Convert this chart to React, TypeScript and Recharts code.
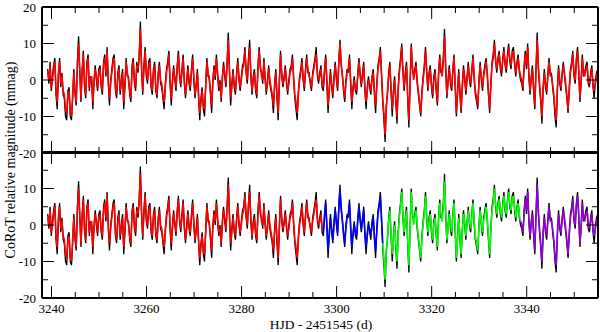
import { LineChart, Line, XAxis, YAxis } from "recharts";

const SERIF = '"Liberation Serif", "Times New Roman", Times, serif';

// CoRoT light curve, sampled every quarter day from HJD-2451545 = 3239.2
const START_DAY = 3239.2;
const STEP = 0.25;

// observed magnitudes in mmag (black)
const obs = [
  3, -1, 5, -3, 1, 4, 6, -4, -8, 1, 6, -2, 2, -4, -5, -10, -11, -3, -2, -10,
  -11, -5, 3, -4, -7, 5, 12, 2, -6, 3, 8, -2, -5, 5, 7, -3, 1, 0, -8, 0,
  4, 0, -3, 3, 4, -2, -4, 5, 7, 1, 9, -1, -7, 0, 3, 6, 7, -3, -5, 2,
  4, -4, 0, 3, -8, -2, 6, 1, 1, -4, -6, 4, 6, -1, -3, 5, 2, 7, 16, 3,
  -4, 4, 9, 1, -1, 5, 6, -2, -4, 3, 5, -3, -5, 2, 5, -1, -2, -5, -8, -1,
  3, 5, 8, -1, -7, 0, 4, 0, -3, 4, 8, 1, -2, 3, 7, -1, -5, 0, 4, -1,
  -3, 3, 7, 0, -5, -1, 3, -5, -11, -5, -2, -8, -10, -1, 6, 1, 1, -4, -9, 0,
  4, 0, 7, 1, -3, 0, -6, 1, 5, 1, -2, 5, 13, 2, -7, -1, 3, -2, -4, 2,
  6, 0, -3, 1, 4, 5, 9, 2, -1, 6, 11, 1, -4, 1, 3, -3, -5, 4, 9, 3,
  2, -1, 6, 0, -4, 0, 4, -1, -3, -5, -9, -1, 3, -5, -11, 0, 8, 1, -2, 1,
  4, -1, -4, 0, 3, 4, 7, 0, -5, -8, -11, -3, 1, 3, 6, 0, -3, 3, 7, 2,
  2, -1, -3, 2, 4, 6, 9, 1, -1, 2, 4, -2, -3, 3, 7, -1, -9, -2, 3, -2,
  -5, 1, 5, 0, -3, 5, 11, 4, 2, -3, -6, 0, 3, 2, 7, -1, -8, -2, 1, -3,
  -4, 2, 6, 1, -2, 2, 5, -3, -8, -2, 1, -2, -4, 1, 3, -4, -9, -1, 4, 6,
  9, 1, -6, -11, -17, -7, -4, 2, 5, -3, -10, -3, 1, -6, -12, -2, 3, 6, 10, 2,
  -3, 2, 5, -5, -13, -1, 10, 3, 1, 3, 5, -1, -4, -7, -10, -3, 1, 4, 9, 2,
  -3, 2, 4, -2, -5, 1, 3, -3, -7, 2, 7, 2, 2, 6, 14, 3, -5, 0, 4, -1,
  -3, 3, 7, -2, -10, -3, 3, -4, -9, -1, 4, 0, -4, 1, 5, 0, -2, 3, 7, 0,
  -4, -6, -8, 0, 5, 0, -3, 2, 4, 6, 1, -4, -9, -1, 5, 7, 11, 5, 2, 6,
  8, 3, 1, 6, 9, 4, 2, 7, 10, 5, 3, 8, 9, 4, 1, 5, 7, 2, 0, -1,
  -3, 4, 8, 3, 10, 1, -4, 1, 4, -3, -8, 3, 13, 3, -2, -6, -12, -2, 3, -2,
  -4, 2, 6, 1, 2, -2, -5, -10, -13, -2, 4, -1, -3, 2, 5, 1, -2, -5, -9, -2,
  3, 5, 8, 1, -1, 6, 9, 2, -6, 0, 7, 1, 2, 4, 5, -1, -2, 2, 4, -2,
  -5, 0, 2, 3,
];

// model fit in mmag (red in the upper panel, coloured by run in the lower one)
const fit = [
  2, 0, 4, -2, 0, 3, 5, -3, -6, 2, 5, -1, 1, -3, -4, -8, -9, -4, -3, -9,
  -10, -4, 2, -3, -6, 4, 10, 3, -5, 2, 7, -1, -4, 4, 6, -2, 0, 1, -6, -1,
  3, 1, -2, 2, 3, -1, -3, 4, 6, 2, 8, 0, -5, -1, 2, 5, 6, -2, -4, 1,
  3, -3, -1, 2, -6, -1, 5, 2, 0, -3, -5, 3, 5, 0, -2, 4, 3, 6, 14, 4,
  -3, 3, 8, 2, 0, 4, 5, -1, -3, 2, 4, -2, -4, 1, 4, 0, -1, -4, -6, -2,
  2, 4, 7, 0, -5, -1, 3, 1, -2, 3, 7, 2, -1, 2, 6, 0, -4, -1, 3, 0,
  -2, 2, 6, 1, -4, -2, 2, -4, -9, -6, -3, -7, -8, -2, 5, 2, 0, -3, -7, -1,
  3, 1, 6, 2, -2, -1, -5, 0, 4, 2, -1, 4, 11, 3, -5, -2, 2, -1, -3, 1,
  5, 1, -2, 0, 3, 4, 8, 3, 0, 5, 9, 2, -3, 0, 2, -2, -4, 3, 8, 4,
  1, 0, 5, 1, -3, -1, 3, 0, -2, -4, -7, -2, 2, -4, -9, -1, 7, 2, -1, 0,
  3, 0, -3, -1, 2, 3, 6, 1, -4, -6, -9, -4, 0, 2, 5, 1, -2, 2, 6, 3,
  1, 0, -2, 1, 3, 5, 7, 2, 0, 1, 3, -1, -2, 2, 6, 0, -7, -3, 2, -1,
  -4, 0, 4, 1, -2, 4, 10, 5, 1, -2, -5, -1, 2, 3, 6, 0, -6, -3, 0, -2,
  -3, 1, 5, 2, -1, 1, 4, -2, -6, -3, 0, -1, -3, 0, 2, -3, -7, -2, 3, 5,
  8, 2, -5, -9, -15, -8, -3, 1, 4, -2, -8, -4, 0, -5, -10, -3, 2, 5, 9, 3,
  -2, 1, 4, -4, -11, -2, 9, 4, 0, 2, 4, 0, -3, -6, -9, -4, 0, 3, 8, 3,
  -2, 1, 3, -1, -4, 0, 2, -2, -6, 1, 6, 3, 1, 5, 12, 4, -4, -1, 3, 0,
  -2, 2, 6, -1, -9, -4, 2, -3, -8, -2, 3, 1, -3, 0, 4, 1, -1, 2, 6, 1,
  -3, -5, -7, -1, 4, 1, -2, 1, 3, 5, 2, -3, -8, -2, 4, 6, 10, 6, 3, 5,
  7, 4, 2, 5, 8, 5, 3, 6, 9, 6, 4, 7, 8, 5, 2, 4, 6, 3, 1, 0,
  -2, 3, 7, 4, 9, 2, -3, 0, 3, -2, -7, 2, 11, 4, -1, -5, -10, -3, 2, -1,
  -3, 1, 5, 2, 1, -1, -4, -8, -11, -3, 3, 0, -2, 1, 4, 2, -1, -4, -8, -3,
  2, 4, 7, 2, 0, 5, 8, 3, -5, -1, 6, 2, 1, 3, 4, 0, -1, 1, 3, -1,
  -3, -1, 1, 2,
];

// colour runs of the fit in the lower panel (day ranges)
const SEGMENTS = [
  { key: "red", from: 3239.2, to: 3297.2, color: "#ff0000" },
  { key: "blue", from: 3297.2, to: 3309.7, color: "#0000ff" },
  { key: "green", from: 3309.7, to: 3338.7, color: "#00ff00" },
  { key: "violet", from: 3338.7, to: 3355, color: "#9400d3" },
];

const X_TICKS = [
  3240, 3245, 3250, 3255, 3260, 3265, 3270, 3275, 3280, 3285, 3290, 3295,
  3300, 3305, 3310, 3315, 3320, 3325, 3330, 3335, 3340, 3345, 3350,
];
const Y_TICKS = [-20, -15, -10, -5, 0, 5, 10, 15, 20];
const X_DOMAIN = [3238, 3355];
const Y_DOMAIN = [-20, 20];

const rows = obs.map((o, i) => {
  const t = Math.round((START_DAY + i * STEP) * 100) / 100;
  const row: Record<string, number | null> = { t, obs: o, fit: fit[i] };
  SEGMENTS.forEach((s) => {
    row[s.key] = t >= s.from - 1e-6 && t <= s.to + 1e-6 ? fit[i] : null;
  });
  return row;
});

function XTick(props: any) {
  const { x, y, payload, side, label } = props;
  const v = payload.value;
  const major = v % 20 === 0;
  const len = major ? 12 : 6;
  const dir = side === "bottom" ? -1 : 1;
  return (
    <g>
      <line x1={x} x2={x} y1={y} y2={y + dir * len} stroke="#000" strokeWidth={1} />
      {label && major && (
        <text x={x} y={y + 15} textAnchor="middle" fontSize={13} fontFamily={SERIF} fill="#000">
          {v}
        </text>
      )}
    </g>
  );
}

function YTick(props: any) {
  const { x, y, payload, side, skipTop } = props;
  const v = payload.value;
  const major = v % 10 === 0;
  const len = major ? 12 : 6;
  const dir = side === "left" ? 1 : -1;
  const showLabel = side === "left" && major && !(skipTop && v === 20);
  return (
    <g>
      <line x1={x} x2={x + dir * len} y1={y} y2={y} stroke="#000" strokeWidth={1} />
      {showLabel && (
        <text x={x - 6} y={y + 4.5} textAnchor="end" fontSize={13} fontFamily={SERIF} fill="#000">
          {v}
        </text>
      )}
    </g>
  );
}

const axisLine = { stroke: "#000", strokeWidth: 2 };

// frame of one panel: 1px axes on all four sides, ticks pointing inward
function Axes({ bottomLabels, skipTop }: { bottomLabels: boolean; skipTop: boolean }) {
  return [
    <XAxis
      key="xb"
      xAxisId="b"
      type="number"
      dataKey="t"
      domain={X_DOMAIN}
      ticks={X_TICKS}
      interval={0}
      height={1}
      tickSize={0}
      tickMargin={0}
      axisLine={axisLine}
      tickLine={false}
      tick={(p: any) => <XTick x={p.x} y={p.y} payload={p.payload} side="bottom" label={bottomLabels} />}
    />,
    <XAxis
      key="xt"
      xAxisId="t"
      orientation="top"
      type="number"
      dataKey="t"
      domain={X_DOMAIN}
      ticks={X_TICKS}
      interval={0}
      height={1}
      tickSize={0}
      tickMargin={0}
      axisLine={axisLine}
      tickLine={false}
      tick={(p: any) => <XTick x={p.x} y={p.y} payload={p.payload} side="top" label={false} />}
    />,
    <YAxis
      key="yl"
      yAxisId="l"
      type="number"
      domain={Y_DOMAIN}
      ticks={Y_TICKS}
      interval={0}
      width={1}
      tickSize={0}
      tickMargin={0}
      axisLine={axisLine}
      tickLine={false}
      tick={(p: any) => <YTick x={p.x} y={p.y} payload={p.payload} side="left" skipTop={skipTop} />}
    />,
    <YAxis
      key="yr"
      yAxisId="r"
      orientation="right"
      type="number"
      domain={Y_DOMAIN}
      ticks={Y_TICKS}
      interval={0}
      width={1}
      tickSize={0}
      tickMargin={0}
      axisLine={axisLine}
      tickLine={false}
      tick={(p: any) => <YTick x={p.x} y={p.y} payload={p.payload} side="right" skipTop={skipTop} />}
    />,
  ];
}

export default function App() {
  return (
    <div
      style={{
        position: "absolute",
        left: 0,
        top: 0,
        width: 600,
        height: 332,
        background: "#fff",
        fontFamily: SERIF,
      }}
    >
      {/* top panel: observations + fit */}
      <div style={{ position: "absolute", left: 0, top: 0 }}>
        <LineChart width={600} height={160} data={rows} margin={{ top: 6, right: 1, bottom: 6, left: 41 }}>
          {Axes({ bottomLabels: false, skipTop: false })}
          <Line xAxisId="b" yAxisId="l" dataKey="obs" stroke="#000" strokeWidth={1.3} dot={false} isAnimationActive={false} />
          <Line xAxisId="t" yAxisId="r" dataKey="fit" stroke="#ff0000" strokeWidth={1.6} dot={false} isAnimationActive={false} />
        </LineChart>
      </div>

      {/* bottom panel: same fit coloured by run */}
      <div style={{ position: "absolute", left: 0, top: 151 }}>
        <LineChart width={600} height={181} data={rows} margin={{ top: 0, right: 1, bottom: 33, left: 41 }}>
          {Axes({ bottomLabels: true, skipTop: true })}
          <Line xAxisId="b" yAxisId="l" dataKey="obs" stroke="#000" strokeWidth={1.3} dot={false} isAnimationActive={false} />
          {SEGMENTS.map((s) => (
            <Line
              key={s.key}
              xAxisId="t"
              yAxisId="r"
              dataKey={s.key}
              stroke={s.color}
              strokeWidth={1.6}
              dot={false}
              isAnimationActive={false}
            />
          ))}
        </LineChart>
      </div>

      <div
        style={{
          position: "absolute",
          left: 11,
          top: 160,
          transform: "translate(-50%, -50%) rotate(-90deg)",
          whiteSpace: "nowrap",
          fontSize: 14,
          lineHeight: 1,
        }}
      >
        CoRoT relative magnitude (mmag)
      </div>
      <div
        style={{
          position: "absolute",
          left: 321,
          top: 325,
          transform: "translate(-50%, -50%)",
          whiteSpace: "nowrap",
          fontSize: 13.5,
          lineHeight: 1,
        }}
      >
        HJD - 2451545 (d)
      </div>
    </div>
  );
}
